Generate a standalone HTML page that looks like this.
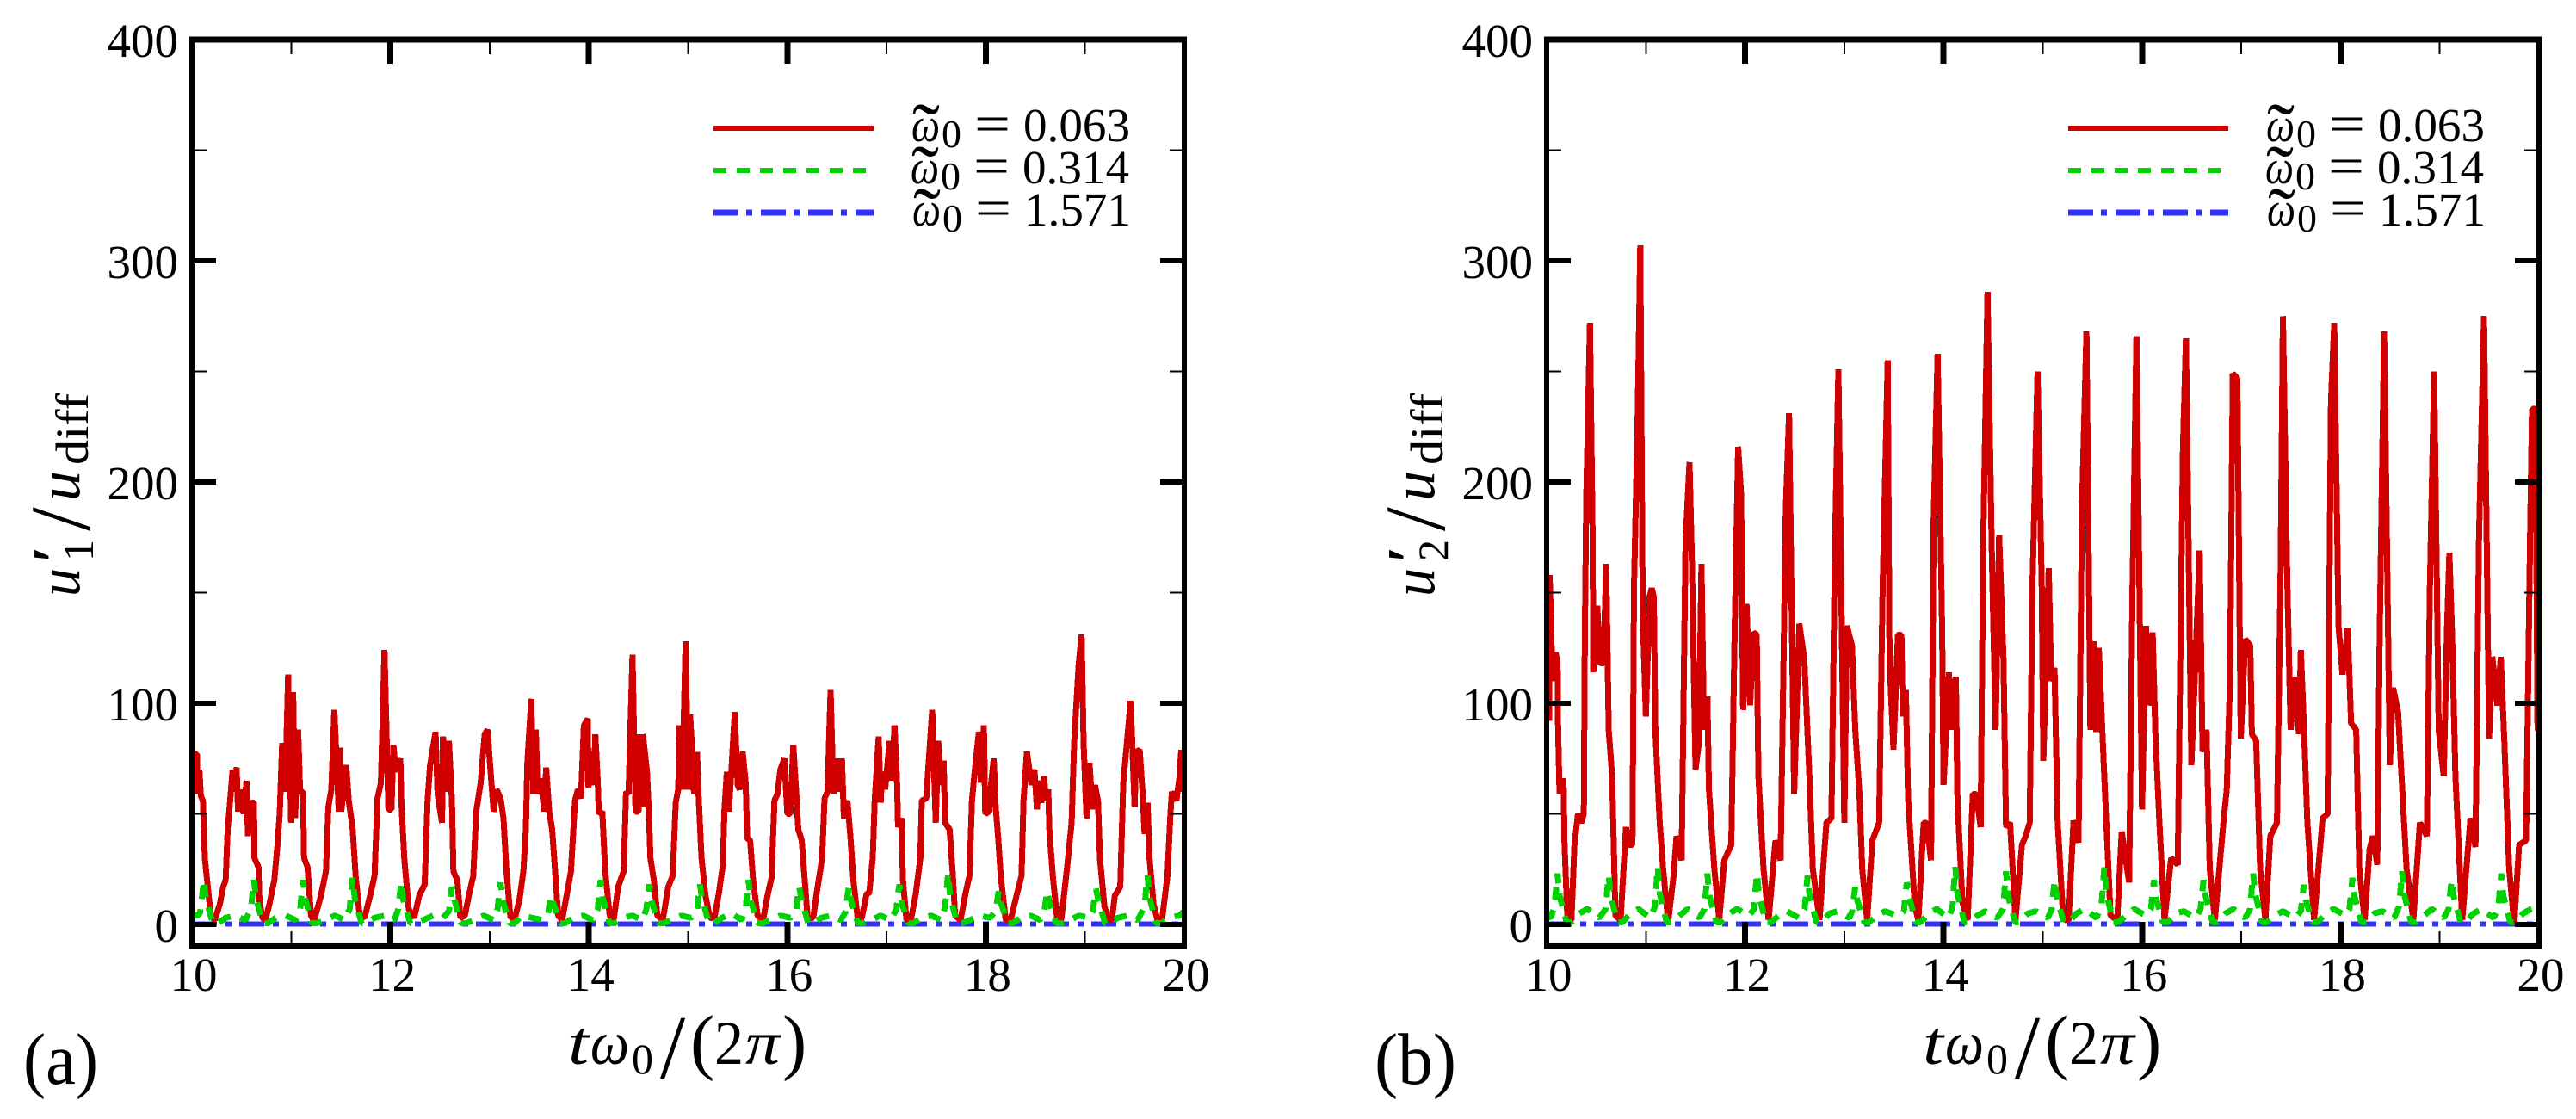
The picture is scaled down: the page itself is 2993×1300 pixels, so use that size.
<!DOCTYPE html>
<html lang="en">
<head>
<meta charset="utf-8">
<title>Velocity fluctuation time series</title>
<style>
html,body{margin:0;padding:0;background:#fff;}
svg{display:block;}
text{font-family:"Liberation Serif",serif;fill:#000;}
.it{font-style:italic;}
</style>
</head>
<body>
<svg id="figure" xmlns="http://www.w3.org/2000/svg" width="2993" height="1300" viewBox="0 0 2993 1300">
  <rect x="0" y="0" width="2993" height="1300" fill="#fff"/>
  <defs>
    <clipPath id="clip-a"><rect x="223" y="46" width="1153" height="1053"/></clipPath>
    <clipPath id="clip-b"><rect x="1797" y="46" width="1153" height="1053"/></clipPath>
  </defs>

  <g id="panel-a"></g>
  <g id="panel-b"></g>

  <g>
    <g>
      <line x1="829" x2="1015" y1="149" y2="149" stroke="#d10000" stroke-width="6" shape-rendering="crispEdges"/>
      <text class="it" x="1059" y="164" font-size="56" textLength="33" lengthAdjust="spacingAndGlyphs">ω</text>
      <text x="1060" y="182" font-size="90" textLength="32" lengthAdjust="spacingAndGlyphs">˜</text>
      <text x="1094" y="171" font-size="46">0</text>
      <text x="1132" y="164" font-size="60" textLength="42" lengthAdjust="spacingAndGlyphs">=</text>
      <text x="1189" y="164" font-size="55" textLength="124" lengthAdjust="spacingAndGlyphs">0.063</text>
    </g>
    <g>
      <line x1="829" x2="1008" y1="198" y2="198" stroke="#00d100" stroke-width="6" stroke-dasharray="15 12" shape-rendering="crispEdges"/>
      <text class="it" x="1058" y="213" font-size="56" textLength="33" lengthAdjust="spacingAndGlyphs">ω</text>
      <text x="1059" y="231" font-size="90" textLength="32" lengthAdjust="spacingAndGlyphs">˜</text>
      <text x="1093" y="220" font-size="46">0</text>
      <text x="1131" y="213" font-size="60" textLength="42" lengthAdjust="spacingAndGlyphs">=</text>
      <text x="1188" y="213" font-size="55" textLength="124" lengthAdjust="spacingAndGlyphs">0.314</text>
    </g>
    <g>
      <line x1="829" x2="1015" y1="247" y2="247" stroke="#3030ff" stroke-width="7" stroke-dasharray="29 9 7 10" shape-rendering="crispEdges"/>
      <text class="it" x="1060" y="262" font-size="56" textLength="33" lengthAdjust="spacingAndGlyphs">ω</text>
      <text x="1061" y="280" font-size="90" textLength="32" lengthAdjust="spacingAndGlyphs">˜</text>
      <text x="1095" y="269" font-size="46">0</text>
      <text x="1133" y="262" font-size="60" textLength="42" lengthAdjust="spacingAndGlyphs">=</text>
      <text x="1190" y="262" font-size="55" textLength="124" lengthAdjust="spacingAndGlyphs">1.571</text>
    </g>
  </g>

  <g transform="translate(1574,0)">
    <g>
      <line x1="829" x2="1015" y1="149" y2="149" stroke="#d10000" stroke-width="6" shape-rendering="crispEdges"/>
      <text class="it" x="1059" y="164" font-size="56" textLength="33" lengthAdjust="spacingAndGlyphs">ω</text>
      <text x="1060" y="182" font-size="90" textLength="32" lengthAdjust="spacingAndGlyphs">˜</text>
      <text x="1094" y="171" font-size="46">0</text>
      <text x="1132" y="164" font-size="60" textLength="42" lengthAdjust="spacingAndGlyphs">=</text>
      <text x="1189" y="164" font-size="55" textLength="124" lengthAdjust="spacingAndGlyphs">0.063</text>
    </g>
    <g>
      <line x1="829" x2="1008" y1="198" y2="198" stroke="#00d100" stroke-width="6" stroke-dasharray="15 12" shape-rendering="crispEdges"/>
      <text class="it" x="1058" y="213" font-size="56" textLength="33" lengthAdjust="spacingAndGlyphs">ω</text>
      <text x="1059" y="231" font-size="90" textLength="32" lengthAdjust="spacingAndGlyphs">˜</text>
      <text x="1093" y="220" font-size="46">0</text>
      <text x="1131" y="213" font-size="60" textLength="42" lengthAdjust="spacingAndGlyphs">=</text>
      <text x="1188" y="213" font-size="55" textLength="124" lengthAdjust="spacingAndGlyphs">0.314</text>
    </g>
    <g>
      <line x1="829" x2="1015" y1="247" y2="247" stroke="#3030ff" stroke-width="7" stroke-dasharray="29 9 7 10" shape-rendering="crispEdges"/>
      <text class="it" x="1060" y="262" font-size="56" textLength="33" lengthAdjust="spacingAndGlyphs">ω</text>
      <text x="1061" y="280" font-size="90" textLength="32" lengthAdjust="spacingAndGlyphs">˜</text>
      <text x="1095" y="269" font-size="46">0</text>
      <text x="1133" y="262" font-size="60" textLength="42" lengthAdjust="spacingAndGlyphs">=</text>
      <text x="1190" y="262" font-size="55" textLength="124" lengthAdjust="spacingAndGlyphs">1.571</text>
    </g>
  </g>

  <g transform="translate(92,693) rotate(-90)">
    <text class="it" x="0" y="0" font-size="70" textLength="33" lengthAdjust="spacingAndGlyphs">u</text>
    <text class="it" x="38" y="-6" font-size="70" font-weight="bold">′</text>
    <text x="41" y="16" font-size="50">1</text>
    <text x="76" y="12" font-size="100">/</text>
    <text class="it" x="111" y="0" font-size="70" textLength="35" lengthAdjust="spacingAndGlyphs">u</text>
    <text x="153" y="10" font-size="54" textLength="83" lengthAdjust="spacingAndGlyphs">diff</text>
  </g>
  <g transform="translate(1666,693) rotate(-90)">
    <text class="it" x="0" y="0" font-size="70" textLength="33" lengthAdjust="spacingAndGlyphs">u</text>
    <text class="it" x="38" y="-6" font-size="70" font-weight="bold">′</text>
    <text x="41" y="16" font-size="50">2</text>
    <text x="76" y="12" font-size="100">/</text>
    <text class="it" x="111" y="0" font-size="70" textLength="35" lengthAdjust="spacingAndGlyphs">u</text>
    <text x="153" y="10" font-size="54" textLength="83" lengthAdjust="spacingAndGlyphs">diff</text>
  </g>

  <g>
    <text class="it" x="660" y="1236" font-size="72" textLength="24" lengthAdjust="spacingAndGlyphs">t</text>
    <text class="it" x="686" y="1236" font-size="72" textLength="45" lengthAdjust="spacingAndGlyphs">ω</text>
    <text x="734" y="1247" font-size="50" textLength="25" lengthAdjust="spacingAndGlyphs">0</text>
    <text x="767" y="1252" font-size="105">/</text>
    <text x="802" y="1238" font-size="85">(</text>
    <text x="830" y="1236" font-size="72" textLength="34" lengthAdjust="spacingAndGlyphs">2</text>
    <text class="it" x="866" y="1236" font-size="72" textLength="40" lengthAdjust="spacingAndGlyphs">π</text>
    <text x="909" y="1238" font-size="85">)</text>
  </g>
  <g transform="translate(1574,0)">
    <text class="it" x="660" y="1236" font-size="72" textLength="24" lengthAdjust="spacingAndGlyphs">t</text>
    <text class="it" x="686" y="1236" font-size="72" textLength="45" lengthAdjust="spacingAndGlyphs">ω</text>
    <text x="734" y="1247" font-size="50" textLength="25" lengthAdjust="spacingAndGlyphs">0</text>
    <text x="767" y="1252" font-size="105">/</text>
    <text x="802" y="1238" font-size="85">(</text>
    <text x="830" y="1236" font-size="72" textLength="34" lengthAdjust="spacingAndGlyphs">2</text>
    <text class="it" x="866" y="1236" font-size="72" textLength="40" lengthAdjust="spacingAndGlyphs">π</text>
    <text x="909" y="1238" font-size="85">)</text>
  </g>

  <text x="27" y="1259" font-size="85" textLength="87" lengthAdjust="spacingAndGlyphs">(a)</text>
  <text x="1597" y="1259" font-size="85" textLength="95" lengthAdjust="spacingAndGlyphs">(b)</text>
</svg>

<script>
const xMajorTicks = [10, 12, 14, 16, 18, 20];
const xMinorTicks = [11, 13, 15, 17, 19];
const yMajorTicks = [0, 100, 200, 300, 400];
const yMinorTicks = [50, 150, 250, 350];
const xTickLabels = ["10", "12", "14", "16", "18", "20"];
const yTickLabels = ["0", "100", "200", "300", "400"];

const redTimesA = [
10.00,10.02,10.05,10.06,10.075,10.09,10.11,10.12,10.13,10.16,
10.19,10.23,10.28,10.315,10.34,10.36,10.38,10.41,10.42,10.45,
10.465,10.49,10.52,10.55,10.565,10.595,10.625,10.63,10.67,10.68,
10.71,10.74,10.78,10.83,10.86,10.885,10.91,10.94,10.97,11.00,
11.02,11.04,11.07,11.09,11.12,11.13,11.165,11.20,11.23,11.30,
11.35,11.375,11.405,11.435,11.48,11.49,11.505,11.555,11.58,11.62,
11.65,11.69,11.74,11.795,11.84,11.87,11.905,11.94,11.98,12.01,
12.03,12.055,12.10,12.11,12.14,12.185,12.24,12.29,12.345,12.375,
12.40,12.455,12.475,12.52,12.53,12.56,12.59,12.62,12.635,12.675,
12.705,12.75,12.79,12.835,12.865,12.91,12.95,12.98,13.00,13.04,
13.07,13.11,13.14,13.17,13.21,13.255,13.30,13.34,13.365,13.38,
13.42,13.44,13.465,13.485,13.515,13.55,13.57,13.60,13.63,13.66,
13.69,13.73,13.775,13.82,13.86,13.89,13.92,13.95,13.99,13.995,
14.03,14.05,14.065,14.09,14.10,14.135,14.165,14.21,14.25,14.295,
14.35,14.375,14.40,14.44,14.47,14.50,14.51,14.54,14.545,14.585,
14.605,14.62,14.655,14.69,14.745,14.80,14.845,14.875,14.90,14.915,
14.94,14.975,15.00,15.02,15.045,15.06,15.09,15.105,15.135,15.175,
15.22,15.265,15.31,15.35,15.365,15.39,15.41,15.435,15.47,15.50,
15.52,15.55,15.58,15.595,15.625,15.655,15.70,15.755,15.80,15.84,
15.87,15.90,15.93,15.97,16.00,16.03,16.06,16.09,16.11,16.145,
16.175,16.205,16.26,16.305,16.35,16.375,16.405,16.435,16.465,16.49,
16.52,16.55,16.57,16.605,16.635,16.665,16.71,16.75,16.80,16.825,
16.86,16.88,16.92,16.94,16.955,16.985,17.03,17.055,17.08,17.105,
17.115,17.15,17.165,17.20,17.245,17.295,17.34,17.355,17.40,17.46,
17.495,17.52,17.55,17.575,17.59,17.635,17.665,17.69,17.745,17.795,
17.835,17.86,17.89,17.93,17.95,17.98,17.995,18.035,18.055,18.08,
18.10,18.125,18.15,18.20,18.25,18.315,18.36,18.38,18.415,18.46,
18.49,18.515,18.535,18.56,18.585,18.61,18.63,18.64,18.675,18.72,
18.76,18.82,18.865,18.89,18.935,18.965,18.985,19.015,19.045,19.075,
19.10,19.13,19.15,19.195,19.24,19.27,19.30,19.355,19.385,19.46,
19.50,19.515,19.55,19.58,19.60,19.63,19.65,19.69,19.73,19.775,
19.83,19.86,19.875,19.92,19.95,19.97,19.985,20.00
];
const redValuesA = [
60,77,77,59,70,58,56,43,30,17,
4,2,9,17,20,43,53,70,60,71,
51,61,50,65,40,55,55,30,26,11,
3,2,9,20,35,50,82,60,113,46,
105,48,88,60,60,30,26,4,1.5,13,
24,53,61,97,51,80,51,72,56,43,
22,4,3,13,22,57,64,124,52,52,
81,69,75,56,30,7,3,13,18,56,
72,87,59,46,85,60,83,56,24,20,
3,4,13,22,51,64,86,88,75,51,
61,57,48,24,3,3,11,24,43,73,
102,59,88,59,66,51,71,51,43,24,
4,2,13,24,56,61,57,90,93,62,
78,63,86,64,50,51,24,4,2,17,
24,60,59,122,51,51,86,53,86,69,
50,30,20,4,2,17,22,55,61,90,
61,128,61,95,75,59,78,59,30,13,
3,3,14,27,51,69,51,69,96,63,
61,78,64,39,38,20,4,2,13,21,
56,59,70,75,50,50,81,59,43,38,
20,3,3,17,30,57,60,106,59,75,
60,75,48,56,40,20,2,3,14,14,
30,56,85,55,69,61,83,65,90,65,
44,48,20,2,2,14,30,56,57,97,
46,83,63,74,46,43,24,4,2,14,
22,56,70,87,64,90,50,51,64,75,
53,39,22,2,2,14,22,56,78,63,
70,52,65,55,67,56,61,43,22,2,
2,26,46,82,117,131,82,48,73,52,
63,56,30,8,2,2,13,17,64,101,
53,78,79,59,41,55,30,9,2,2,
22,50,60,56,66,79,60,79
];

const redTimesB = [
10.00,10.01,10.025,10.03,10.06,10.09,10.11,10.115,10.13,10.17,
10.18,10.21,10.25,10.28,10.316,10.35,10.375,10.385,10.40,10.436,
10.464,10.47,10.51,10.54,10.573,10.60,10.625,10.66,10.693,10.745,
10.80,10.83,10.865,10.88,10.916,10.944,10.968,11.00,11.036,11.06,
11.08,11.095,11.14,11.174,11.225,11.277,11.31,11.36,11.40,11.44,
11.465,11.50,11.534,11.56,11.585,11.62,11.636,11.69,11.74,11.79,
11.86,11.894,11.93,11.96,11.98,12.014,12.05,12.083,12.117,12.134,
12.186,12.237,12.306,12.357,12.41,12.443,12.494,12.546,12.597,12.648,
12.683,12.75,12.82,12.87,12.906,12.94,13.00,13.026,13.077,13.11,
13.153,13.18,13.23,13.283,13.35,13.386,13.437,13.455,13.495,13.54,
13.575,13.59,13.62,13.643,13.71,13.746,13.80,13.83,13.873,13.90,
13.94,13.986,14.00,14.055,14.08,14.124,14.14,14.19,14.243,14.295,
14.33,14.374,14.40,14.443,14.484,14.525,14.56,14.604,14.63,14.67,
14.724,14.79,14.827,14.868,14.895,14.947,14.99,15.005,15.06,15.084,
15.118,15.15,15.204,15.225,15.26,15.31,15.36,15.395,15.44,15.48,
15.514,15.537,15.565,15.60,15.64,15.683,15.75,15.795,15.87,15.904,
15.944,16.00,16.04,16.073,16.107,16.134,16.175,16.226,16.293,16.36,
16.412,16.442,16.497,16.548,16.58,16.61,16.65,16.683,16.734,16.82,
16.853,16.886,16.914,16.96,16.995,17.04,17.09,17.107,17.15,17.19,
17.243,17.293,17.36,17.395,17.42,17.463,17.497,17.548,17.58,17.60,
17.632,17.666,17.734,17.82,17.87,17.904,17.937,17.98,18.02,18.073,
18.107,18.158,18.19,18.243,18.293,18.327,18.37,18.395,18.44,18.497,
18.53,18.58,18.615,18.666,18.734,18.80,18.87,18.90,18.944,18.99,
19.04,19.073,19.097,19.124,19.158,19.226,19.31,19.36,19.395,19.446,
19.497,19.53,19.58,19.615,19.65,19.70,19.75,19.80,19.87,19.91,
19.93,19.965,19.985,20.00
];
const redValuesB = [
92,158,92,158,110,123,118,88,59,66,
36,2,2,36,50,46,50,131,194,272,
173,114,144,118,118,163,88,67,4,2,
44,36,36,152,226,307,141,94,148,152,
148,88,46,25,1,21,40,29,173,209,
162,70,82,163,88,103,61,25,2,29,
36,131,216,194,97,145,99,132,131,67,
25,2,38,29,188,231,59,136,120,67,
25,2,46,48,173,251,46,135,126,88,
59,25,2,38,46,152,255,120,79,131,
131,94,106,57,8,2,46,46,29,183,
258,131,63,114,88,112,57,10,2,59,
59,44,173,286,173,88,176,120,44,46,
2,36,40,46,152,250,152,74,161,110,
116,46,4,2,2,47,37,188,268,88,
128,87,125,87,46,4,2,42,19,152,
266,52,135,99,132,86,46,2,30,27,
215,265,72,131,169,78,88,25,2,46,
61,110,249,247,84,129,126,86,83,25,
2,40,46,152,275,156,88,112,86,124,
88,46,2,48,50,236,272,135,113,134,
91,88,25,2,34,40,27,131,268,72,
107,96,67,25,2,46,40,152,250,88,
67,133,168,131,67,2,48,35,173,275,
84,121,99,121,84,25,0,36,38,173,
233,233,88,88
];

const greenTimesA = [
10.00,10.05,10.08,
10.09,10.105,10.12,10.14,10.21,10.26,10.34,10.44,10.54,
10.595,10.61,10.625,10.645,10.715,10.765,10.845,10.945,11.045,
11.09,11.105,11.12,11.14,11.21,11.26,11.34,11.44,11.54,
11.59,11.605,11.62,11.64,11.71,11.76,11.84,11.94,12.04,
12.08,12.095,12.11,12.13,12.20,12.25,12.33,12.43,12.53,
12.59,12.605,12.62,12.64,12.71,12.76,12.84,12.94,13.04,
13.08,13.095,13.11,13.13,13.20,13.25,13.33,13.43,13.53,
13.59,13.605,13.62,13.64,13.71,13.76,13.84,13.94,14.04,
14.09,14.105,14.12,14.14,14.21,14.26,14.34,14.44,14.54,
14.58,14.595,14.61,14.63,14.70,14.75,14.83,14.93,15.03,
15.09,15.105,15.12,15.14,15.21,15.26,15.34,15.44,15.54,
15.58,15.595,15.61,15.63,15.70,15.75,15.83,15.93,16.03,
16.09,16.105,16.12,16.14,16.21,16.26,16.34,16.44,16.54,
16.59,16.605,16.62,16.64,16.71,16.76,16.84,16.94,17.04,
17.10,17.115,17.13,17.15,17.22,17.27,17.35,17.45,17.55,
17.59,17.605,17.62,17.64,17.71,17.76,17.84,17.94,18.04,
18.10,18.115,18.13,18.15,18.22,18.27,18.35,18.45,18.55,
18.59,18.605,18.62,18.64,18.71,18.76,18.84,18.94,19.04,
19.08,19.095,19.11,19.13,19.20,19.25,19.33,19.43,19.53,
19.60,19.615,19.63,19.65,19.72,19.77,19.85,19.95,20.00
];
const greenValuesA = [
4,4,5,
8,14,20,12,0.5,0.5,3,4,2,
7,14,20,12,0.5,0.5,3,4,2,
6,14,20,12,0.5,0.5,2,4,2,
7,15,21,12,0.5,0.5,3,4,2,
7,14,19,11,0.5,0.5,2,4,3,
6,12,17,12,0.5,0.5,2,4,2,
7,14,19,11,0.5,0.5,4,3,2,
5,10,13,10,0.5,0.5,3,4,2,
7,15,20,12,0.5,0.5,3,4,2,
7,13,18,11,0.5,0.5,2,4,3,
6,13,18,12,0.5,0.5,3,5,2,
7,15,20,11,0.5,0.5,2,4,3,
6,13,17,12,0.5,0.5,3,4,2,
6,13,17,11,0.5,0.5,2,4,2,
7,14,18,10,0.5,0.5,3,4,2,
8,16,23,13,0.5,0.5,2,4,3,
6,11,15,10,0.5,0.5,3,4,2,
6,11,15,10,0.5,0.5,2,4,3,
6,12,16,12,0.5,0.5,3,4,2,
8,16,22,12,0.5,0.5,3,4,6
];

const greenTimesB = [
10.00,10.04,
10.08,10.095,10.11,10.13,10.20,10.25,10.33,10.41,10.53,
10.595,10.61,10.625,10.645,10.715,10.765,10.845,10.925,11.045,
11.09,11.105,11.12,11.14,11.21,11.26,11.34,11.42,11.54,
11.59,11.605,11.62,11.64,11.71,11.76,11.84,11.92,12.04,
12.09,12.105,12.12,12.14,12.21,12.26,12.34,12.42,12.54,
12.60,12.615,12.63,12.65,12.72,12.77,12.85,12.93,13.05,
13.08,13.095,13.11,13.13,13.20,13.25,13.33,13.41,13.53,
13.60,13.615,13.63,13.65,13.72,13.77,13.85,13.93,14.05,
14.09,14.105,14.12,14.14,14.21,14.26,14.34,14.42,14.54,
14.60,14.615,14.63,14.65,14.72,14.77,14.85,14.93,15.05,
15.09,15.105,15.12,15.14,15.21,15.26,15.34,15.42,15.54,
15.59,15.605,15.62,15.64,15.71,15.76,15.84,15.92,16.04,
16.09,16.105,16.12,16.14,16.21,16.26,16.34,16.42,16.54,
16.59,16.605,16.62,16.64,16.71,16.76,16.84,16.92,17.04,
17.09,17.105,17.12,17.14,17.21,17.26,17.34,17.42,17.54,
17.60,17.615,17.63,17.65,17.72,17.77,17.85,17.93,18.05,
18.09,18.105,18.12,18.14,18.21,18.26,18.34,18.42,18.54,
18.59,18.605,18.62,18.64,18.71,18.76,18.84,18.92,19.04,
19.09,19.105,19.12,19.14,19.21,19.26,19.34,19.42,19.54,
19.59,19.605,19.62,19.64,19.71,19.76,19.84,19.92,20.00
];
const greenValuesB = [
4,3,
8,16,23,13,1,1,5,7,3,
7,15,22,13,1,1,5,7,3,
8,17,26,14,1,1,4,7,3,
7,15,23,13,1,1,5,7,4,
7,16,23,13,1,1,4,6,3,
7,15,22,13,1,1,5,6,3,
6,12,17,11,1,1,4,6,4,
6,13,19,13,1,1,5,7,3,
8,18,26,14,1,1,4,6,3,
7,16,24,13,1,1,5,6,3,
7,14,20,13,1,1,5,7,3,
8,17,26,14,1,1,4,7,4,
7,14,20,12,1,1,5,6,3,
7,14,20,13,1,1,5,7,3,
7,16,23,14,1,1,4,6,3,
6,12,18,11,1,1,5,7,4,
7,14,21,13,1,1,5,6,3,
8,16,24,14,1,1,4,7,3,
7,14,20,13,1,1,5,7,3,
7,16,23,13,1,1,5,7,8
];

const blueTimes = [10, 12, 14, 16, 18, 20];
const blueValuesA = [0.1, 0.1, 0.1, 0.1, 0.1, 0.1];
const blueValuesB = [0.1, 0.1, 0.1, 0.1, 0.1, 0.1];

const SVG_NS = 'http://www.w3.org/2000/svg';

function makeX(left) {
  return function (t) { return left + (t - 10) * 115.3; };
}
function yPos(u) { return 1074 - u * 2.57; }

function seriesPath(times, values, xf) {
  const n = Math.min(times.length, values.length);
  let d = '';
  for (let i = 0; i < n; i++) {
    d += (i ? 'L' : 'M') + xf(times[i]).toFixed(1) + ' ' + yPos(values[i]).toFixed(1);
  }
  return d;
}

function addPath(parent, d, color, width, dash, clip) {
  const p = document.createElementNS(SVG_NS, 'path');
  p.setAttribute('d', d);
  p.setAttribute('fill', 'none');
  p.setAttribute('stroke', color);
  p.setAttribute('stroke-width', width);
  p.setAttribute('stroke-linejoin', 'bevel');
  p.setAttribute('stroke-linecap', 'butt');
  p.setAttribute('clip-path', 'url(#' + clip + ')');
  p.setAttribute('shape-rendering', 'crispEdges');
  if (dash) p.setAttribute('stroke-dasharray', dash);
  parent.appendChild(p);
  return p;
}

function addSeg(parent, x1, y1, x2, y2, w) {
  const l = document.createElementNS(SVG_NS, 'line');
  l.setAttribute('x1', x1);
  l.setAttribute('y1', y1);
  l.setAttribute('x2', x2);
  l.setAttribute('y2', y2);
  l.setAttribute('stroke', '#000');
  l.setAttribute('stroke-width', w);
  l.setAttribute('shape-rendering', 'crispEdges');
  parent.appendChild(l);
  return l;
}

function addLabel(parent, x, y, str, anchor) {
  const t = document.createElementNS(SVG_NS, 'text');
  t.setAttribute('x', x);
  t.setAttribute('y', y);
  t.setAttribute('font-size', '55');
  t.setAttribute('text-anchor', anchor);
  t.textContent = str;
  parent.appendChild(t);
  return t;
}

function drawPanel(groupId, left, clip, tR, vR, tG, vG, vB) {
  const g = document.getElementById(groupId);
  const xf = makeX(left);
  const right = xf(20);
  const top = yPos(400);
  const bottom = 1099;

  const blue = addPath(g, seriesPath(blueTimes, vB, xf), '#3030ff', 6, '29 10 7 9', clip);
  
  

  const red = addPath(g, seriesPath(tR, vR, xf), '#d10000', 7, '', clip);
  
  

  const green = addPath(g, seriesPath(tG, vG, xf), '#00d100', 7, '15 12', clip);
  
  

  xMajorTicks.forEach(function (t, i) {
    const x = xf(t);
    if (t > 10 && t < 20) {
      const a = addSeg(g, x, bottom, x, bottom - 28, 7);
      
      
      const b = addSeg(g, x, top, x, top + 28, 7);
      
      
    }
    const lab = addLabel(g, x + 2, 1151, xTickLabels[i], 'middle');
    
    
  });
  xMinorTicks.forEach(function (t) {
    const x = xf(t);
    const a = addSeg(g, x, bottom, x, bottom - 17, 2);
    
    
    const b = addSeg(g, x, top, x, top + 17, 2);
    
    
  });
  yMajorTicks.forEach(function (u, i) {
    const y = yPos(u);
    if (u < 400) {
      const a = addSeg(g, left, y, left + 28, y, 6);
      
      
      const b = addSeg(g, right, y, right - 28, y, 6);
      
      
    }
    const lab = addLabel(g, left - 16, y + 20, yTickLabels[i], 'end');
    
    
  });
  yMinorTicks.forEach(function (u) {
    const y = yPos(u);
    const a = addSeg(g, left, y, left + 17, y, 2);
    
    
    const b = addSeg(g, right, y, right - 17, y, 2);
    
    
  });

  const fl = addSeg(g, left, top - 3.5, left, bottom + 3.5, 6);
  
  
  const fr = addSeg(g, right, top - 3.5, right, bottom + 3.5, 6);
  
  
  const ft = addSeg(g, left - 3, top, right + 3, top, 7);
  
  
  const fb = addSeg(g, left - 3, bottom, right + 3, bottom, 7);
  
  
}

drawPanel('panel-a', 223, 'clip-a', redTimesA, redValuesA, greenTimesA, greenValuesA, blueValuesA);
drawPanel('panel-b', 1797, 'clip-b', redTimesB, redValuesB, greenTimesB, greenValuesB, blueValuesB);
</script>
</body>
</html>
